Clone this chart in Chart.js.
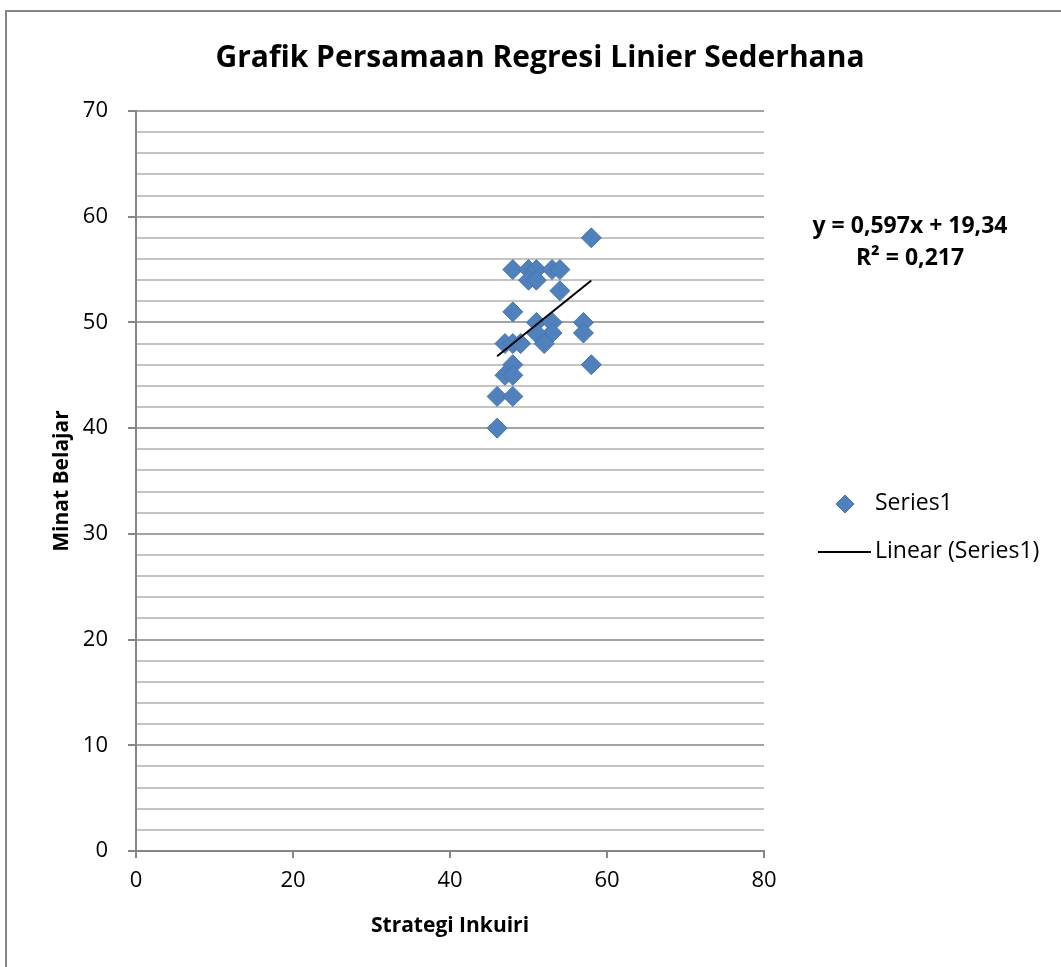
<!DOCTYPE html>
<html><head><meta charset="utf-8">
<script src="https://cdn.jsdelivr.net/npm/chart.js@4"></script>
<style>html,body{margin:0;padding:0;background:#fff}#wrap{width:1061px;height:967px;position:relative}</style>
</head><body><div id="wrap"><canvas id="c" width="1061" height="967"></canvas></div>
<script>
// ---- data ----
const strategiInkuiri = [58,48,50,51,53,54,50,51,54,48,51,53,57,57,53,51,52,47,48,49,48,47,48,58,46,48,46];
const minatBelajar    = [58,55,55,55,55,55,54,54,53,51,50,50,50,49,49,49,48,48,48,48,46,45,45,46,43,43,40];
const trendSlope = 0.597;
const trendIntercept = 19.34;
const rSquared = 0.217;
const chartTitle = 'Grafik Persamaan Regresi Linier Sederhana';
const xAxisTitle = 'Strategi Inkuiri';
const yAxisTitle = 'Minat Belajar';
const seriesName = 'Series1';
const trendName = 'Linear (Series1)';
const equationText = 'y = 0,597x + 19,34';
const r2Text = 'R² = 0,217';

const FONT = '"Open Sans", "Liberation Sans", sans-serif';
const points = strategiInkuiri.map((x, i) => ({x: x, y: minatBelajar[i]}));
const xMin = Math.min(...strategiInkuiri), xMax = Math.max(...strategiInkuiri);
const trend = [xMin, xMax].map(x => ({x: x, y: trendSlope * x + trendIntercept}));

const deco = {
  id: 'deco',
  beforeDraw(c) {
    const g = c.ctx; g.save();
    g.fillStyle = '#fff'; g.fillRect(0, 0, c.width, c.height);
    g.strokeStyle = '#868686'; g.lineWidth = 2;
    g.strokeRect(6, 11, 1300, 1300);
    g.fillStyle = '#000'; g.textAlign = 'center'; g.textBaseline = 'middle';
    g.font = 'bold 30px ' + FONT;
    g.fillText(chartTitle, 540, 58);
    g.restore();
  },
  afterDraw(c) {
    const g = c.ctx, a = c.chartArea; g.save();
    g.fillStyle = '#000'; g.textAlign = 'center'; g.textBaseline = 'middle';
    g.font = 'bold 23px ' + FONT;
    g.fillText(equationText, a.right + 146, 226);
    g.fillText(r2Text, a.right + 146, 258);
    // legend
    const ds0 = c.data.datasets[0], ds1 = c.data.datasets[1];
    const lx = a.right + 81, ly = 504;
    g.fillStyle = ds0.backgroundColor; g.strokeStyle = ds0.borderColor; g.lineWidth = 1;
    g.beginPath();
    g.moveTo(lx, ly - 9); g.lineTo(lx + 9, ly); g.lineTo(lx, ly + 9); g.lineTo(lx - 9, ly); g.closePath();
    g.fill(); g.stroke();
    g.strokeStyle = ds1.borderColor; g.lineWidth = 2;
    g.beginPath(); g.moveTo(a.right + 54, 552); g.lineTo(a.right + 107, 552); g.stroke();
    g.fillStyle = '#000'; g.textAlign = 'left'; g.font = '23px ' + FONT;
    g.fillText(ds0.label, a.right + 111, 503);
    g.fillText(ds1.label, a.right + 111, 551);
    g.restore();
  }
};

new Chart(document.getElementById('c'), {
  type: 'scatter',
  data: {
    datasets: [
      {label: seriesName, data: points, pointStyle: 'rectRot', pointRadius: 10, pointHoverRadius: 10,
       backgroundColor: '#4f81bd', borderColor: '#4675b0', borderWidth: 1, order: 1},
      {label: trendName, type: 'line', data: trend, borderColor: '#000', borderWidth: 2,
       pointRadius: 0, fill: false, order: 0}
    ]
  },
  options: {
    responsive: false, animation: false, devicePixelRatio: 1,
    layout: {padding: {left: 20, right: 297, top: 111, bottom: 0}},
    plugins: {
      legend: {display: false}, tooltip: {enabled: false}, title: {display: false}
    },
    scales: {
      x: {
        type: 'linear', min: 0, max: 80,
        ticks: {stepSize: 20, color: '#000', padding: 10, font: {family: FONT, size: 22}},
        grid: {drawOnChartArea: false, drawTicks: true, tickLength: 7, color: '#868686', lineWidth: 2},
        border: {display: true, color: '#868686', width: 2},
        title: {display: true, text: xAxisTitle, color: '#000', font: {family: FONT, size: 21, weight: 'bold'},
                padding: {top: 28, bottom: 28}},
        afterFit(s) { s.height = 116; }
      },
      y: {
        type: 'linear', min: 0, max: 70,
        ticks: {stepSize: 2, autoSkip: false, color: '#000', padding: 20, font: {family: FONT, size: 22},
                callback: v => (v % 10 === 0 ? v : '')},
        grid: {
          color: ctx => (ctx.tick && ctx.tick.value % 10 === 0 ? '#a3a3a3' : '#c4c4c4'),
          tickColor: ctx => (ctx.tick && ctx.tick.value % 10 === 0 ? '#868686' : 'rgba(0,0,0,0)'),
          lineWidth: 2, tickLength: 8
        },
        border: {display: true, color: '#868686', width: 2},
        title: {display: true, text: yAxisTitle, color: '#000', font: {family: FONT, size: 21, weight: 'bold'},
                padding: {top: 29, bottom: 29}},
        afterFit(s) { s.width = 116; }
      }
    }
  },
  plugins: [deco]
});
</script>
</body></html>
